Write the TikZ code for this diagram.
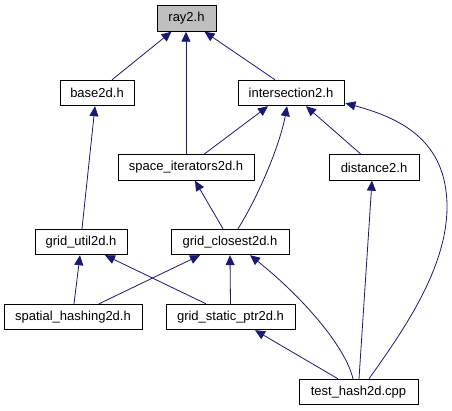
\documentclass[tikz,border=0pt]{standalone}
\usepackage{fontspec}
\setmainfont{Liberation Sans}
\usetikzlibrary{arrows.meta,calc}
\definecolor{edgeblue}{HTML}{191970}
\definecolor{curgray}{HTML}{BFBFBF}
\begin{document}
\begin{tikzpicture}[x=1pt,y=-1pt,
  box/.style={draw=black,line width=0.9pt,inner sep=0pt,minimum height=25.5pt,font=\fontsize{13}{15}\selectfont,fill=white},
  dep/.style={draw=edgeblue,line width=0.8pt,-{Triangle[length=10pt,width=9pt]},fill=none},
]
\useasboundingbox (0,0) rectangle (452,411);
\node[box,fill=curgray,minimum width=59pt] (ray) at (186.5,18.5) {ray2.h};
\node[box,minimum width=74pt] (base) at (97,93) {base2d.h};
\node[box,minimum width=106pt] (inter) at (291,93) {intersection2.h};
\node[box,minimum width=136pt] (space) at (186,167.5) {space\_iterators2d.h};
\node[box,minimum width=90pt] (dist) at (374,167.5) {distance2.h};
\node[box,minimum width=92pt] (gutil) at (81,242) {grid\_util2d.h};
\node[box,minimum width=118pt] (gclose) at (230,242) {grid\_closest2d.h};
\node[box,minimum width=138pt] (spat) at (73,317) {spatial\_hashing2d.h};
\node[box,minimum width=129pt] (gstat) at (230.5,317) {grid\_static\_ptr2d.h};
\node[box,minimum width=119pt] (test) at (358.5,392) {test\_hash2d.cpp};

\draw[dep] ([xshift=15pt]base.north) -- ([xshift=-15pt]ray.south);
\draw[dep] (space.north) -- (space.north |- ray.south);
\draw[dep] ([xshift=-16pt]inter.north) -- ([xshift=18pt]ray.south);
\draw[dep] ([xshift=1pt]gutil.north) -- ([xshift=-2pt]base.south);
\draw[dep] ([xshift=18pt]space.north) -- ([xshift=-23pt]inter.south);
\draw[dep] ([xshift=8pt]gclose.north) .. controls (262,190) and (281,140) .. ([xshift=-4pt]inter.south);
\draw[dep] ([xshift=-13pt]dist.north) -- ([xshift=15pt]inter.south);
\draw[dep] ([xshift=10.5pt]test.north) .. controls (400,335) and (447,270) .. (447,207) .. controls (447,140) and (400,118) .. ($(inter.south east)+(1,-3)$);
\draw[dep] ([xshift=-7pt]gclose.north) -- ([xshift=9pt]space.south);
\draw[dep] ([xshift=0.5pt]test.north) -- ([xshift=-2pt]dist.south);
\draw[dep] ([xshift=1pt]spat.north) -- ([xshift=-1pt]gutil.south);
\draw[dep] ([xshift=-24.5pt]gstat.north) -- ([xshift=24pt]gutil.south);
\draw[dep] ([xshift=26pt]spat.north) -- ([xshift=-30pt]gclose.south);
\draw[dep] (gstat.north) -- (gclose.south);
\draw[dep] ([xshift=-5.5pt]test.north) .. controls (345,345) and (300,295) .. ([xshift=20pt]gclose.south);
\draw[dep] ([xshift=-20.5pt]test.north) -- ([xshift=24.5pt]gstat.south);
\end{tikzpicture}
\end{document}
